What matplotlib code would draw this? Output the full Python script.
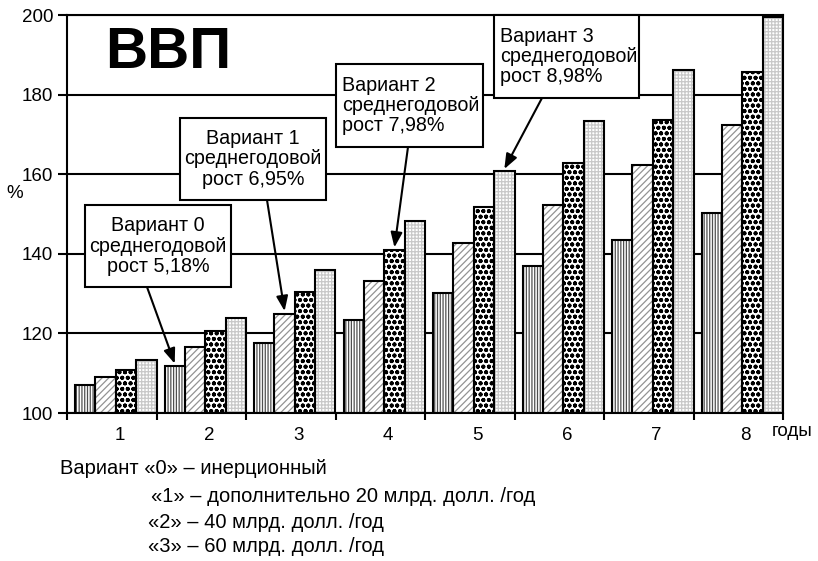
import matplotlib
matplotlib.use("Agg")
import matplotlib.pyplot as plt
from matplotlib.patches import Rectangle
import numpy as np

plt.rcParams['font.family'] = ['Liberation Sans', 'DejaVu Sans']

# ---- data ----
years = [1, 2, 3, 4, 5, 6, 7, 8]
year_labels = ['1', '2', '3', '4', '5', '6', '7', '8']
v0 = [107.0, 111.8, 117.6, 123.4, 130.2, 137.0, 143.5, 150.2]
v1 = [109.1, 116.7, 125.0, 133.2, 142.6, 152.2, 162.3, 172.4]
v2 = [110.8, 120.6, 130.5, 141.0, 151.7, 162.7, 173.6, 185.7]
v3 = [113.2, 123.9, 135.9, 148.2, 160.7, 173.4, 186.2, 199.5]
series = [v0, v1, v2, v3]
y_ticks = [100, 120, 140, 160, 180, 200]
title = 'ВВП'
box_texts = ['Вариант 0\nсреднегодовой\nрост 5,18%',
             'Вариант 1\nсреднегодовой\nрост 6,95%',
             'Вариант 2\nсреднегодовой\nрост 7,98%',
             'Вариант 3\nсреднегодовой\nрост 8,98%']
# which bar each note points at: (year index, series index)
box_targets = [(1, 0), (2, 1), (3, 2), (4, 3)]
notes = ['Вариант «0» – инерционный',
         '«1» – дополнительно 20 млрд. долл. /год',
         '«2» – 40 млрд. долл. /год',
         '«3» – 60 млрд. долл. /год']

W, H = 818, 561
fig = plt.figure(figsize=(W / 100, H / 100), dpi=100)
ax = fig.add_axes([67 / W, 1 - 413 / H, (783 - 67) / W, (413 - 15) / H])

def fx(px):
    return px / W

def fy(py):
    return 1 - py / H

hatches = ['||||||', '/////', 'ooo', '+++++']
hcolors = ['#505050', '#939393', '#000000', '#c8c8c8']
hlw = [0.9, 0.9, 1.3, 0.9]
offset = 0.09
bw = 0.2275
x0 = np.arange(len(years))
for k, vals in enumerate(series):
    xs = x0 + offset + bw * k
    h = np.array(vals) - 100
    with plt.rc_context({'hatch.linewidth': hlw[k]}):
        bars = ax.bar(xs, h, bottom=100, width=bw, align='edge', color='white',
                      edgecolor=hcolors[k], hatch=hatches[k], linewidth=0, zorder=3)
        for p in bars:
            if hasattr(p, 'set_hatch_linewidth'):
                p.set_hatch_linewidth(hlw[k])
    ax.bar(xs, h, bottom=100, width=bw, align='edge', fill=False,
           edgecolor='black', linewidth=1.5, zorder=4)

ax.set_xlim(0, 8)
ax.set_ylim(100, 200)
ax.set_yticks(y_ticks)
ax.set_yticklabels([str(t) for t in y_ticks], fontsize=13.5)
ax.tick_params(axis='y', direction='out', length=6.5, width=1.5, pad=3.5)
ax.set_xticks(x0 + offset + 2 * bw + 0.04)
ax.set_xticklabels(year_labels, fontsize=13.5)
ax.tick_params(axis='x', which='major', length=0, pad=10)
ax.set_xticks(np.arange(0, 9), minor=True)
ax.tick_params(axis='x', which='minor', direction='out', length=5, width=1.5)
ax.grid(axis='y', color='black', linewidth=1.5, zorder=1)
ax.set_axisbelow(True)
for s in ax.spines.values():
    s.set_linewidth(1.5)
    s.set_zorder(5)

# title
fig.text(fx(168), fy(53), title, fontsize=42, fontweight='bold',
         ha='center', va='center')
fig.text(fx(15), fy(193), '%', fontsize=13.5, ha='center', va='center')
fig.text(fx(772), fy(432), 'годы', fontsize=13.5, ha='left', va='center')

# annotation boxes (pixel layout): left, top, right, bottom, align, arrow start x
boxes = [(85, 205, 231, 287, 'center', 147),
         (180, 118, 326, 200, 'center', 267),
         (336, 64, 483, 147, 'left', 408),
         (494, 15, 639, 98, 'left', 542)]
for (l, t, r, b, al, axs), txt, (gi, si) in zip(boxes, box_texts, box_targets):
    rect = Rectangle((fx(l), fy(b)), fx(r) - fx(l), fy(t) - fy(b),
                     transform=fig.transFigure, facecolor='white',
                     edgecolor='black', linewidth=1.5, zorder=10)
    fig.add_artist(rect)
    if al == 'center':
        tx = (l + r) / 2
    else:
        tx = l + 6
    fig.text(fx(tx), fy((t + b) / 2), txt, fontsize=14.2, ha=al, va='center',
             multialignment=al, linespacing=1.08, zorder=11)
    xt = gi + offset + bw * si + bw / 2
    yt = series[si][gi]
    ax.annotate('', xy=(xt, yt + 0.6), xycoords='data',
                xytext=(axs, H - b), textcoords='figure pixels',
                arrowprops=dict(arrowstyle='-|>,head_length=0.9,head_width=0.35',
                                color='black', linewidth=1.5,
                                shrinkA=0, shrinkB=0),
                zorder=9, annotation_clip=False)

# notes under the chart
fig.text(fx(60), fy(468), notes[0], fontsize=14.5, ha='left', va='center')
fig.text(fx(151), fy(496), notes[1], fontsize=14.5, ha='left', va='center')
fig.text(fx(148), fy(522), notes[2], fontsize=14.5, ha='left', va='center')
fig.text(fx(148), fy(547), notes[3], fontsize=14.5, ha='left', va='center')

fig.savefig('out.png', dpi=100)
